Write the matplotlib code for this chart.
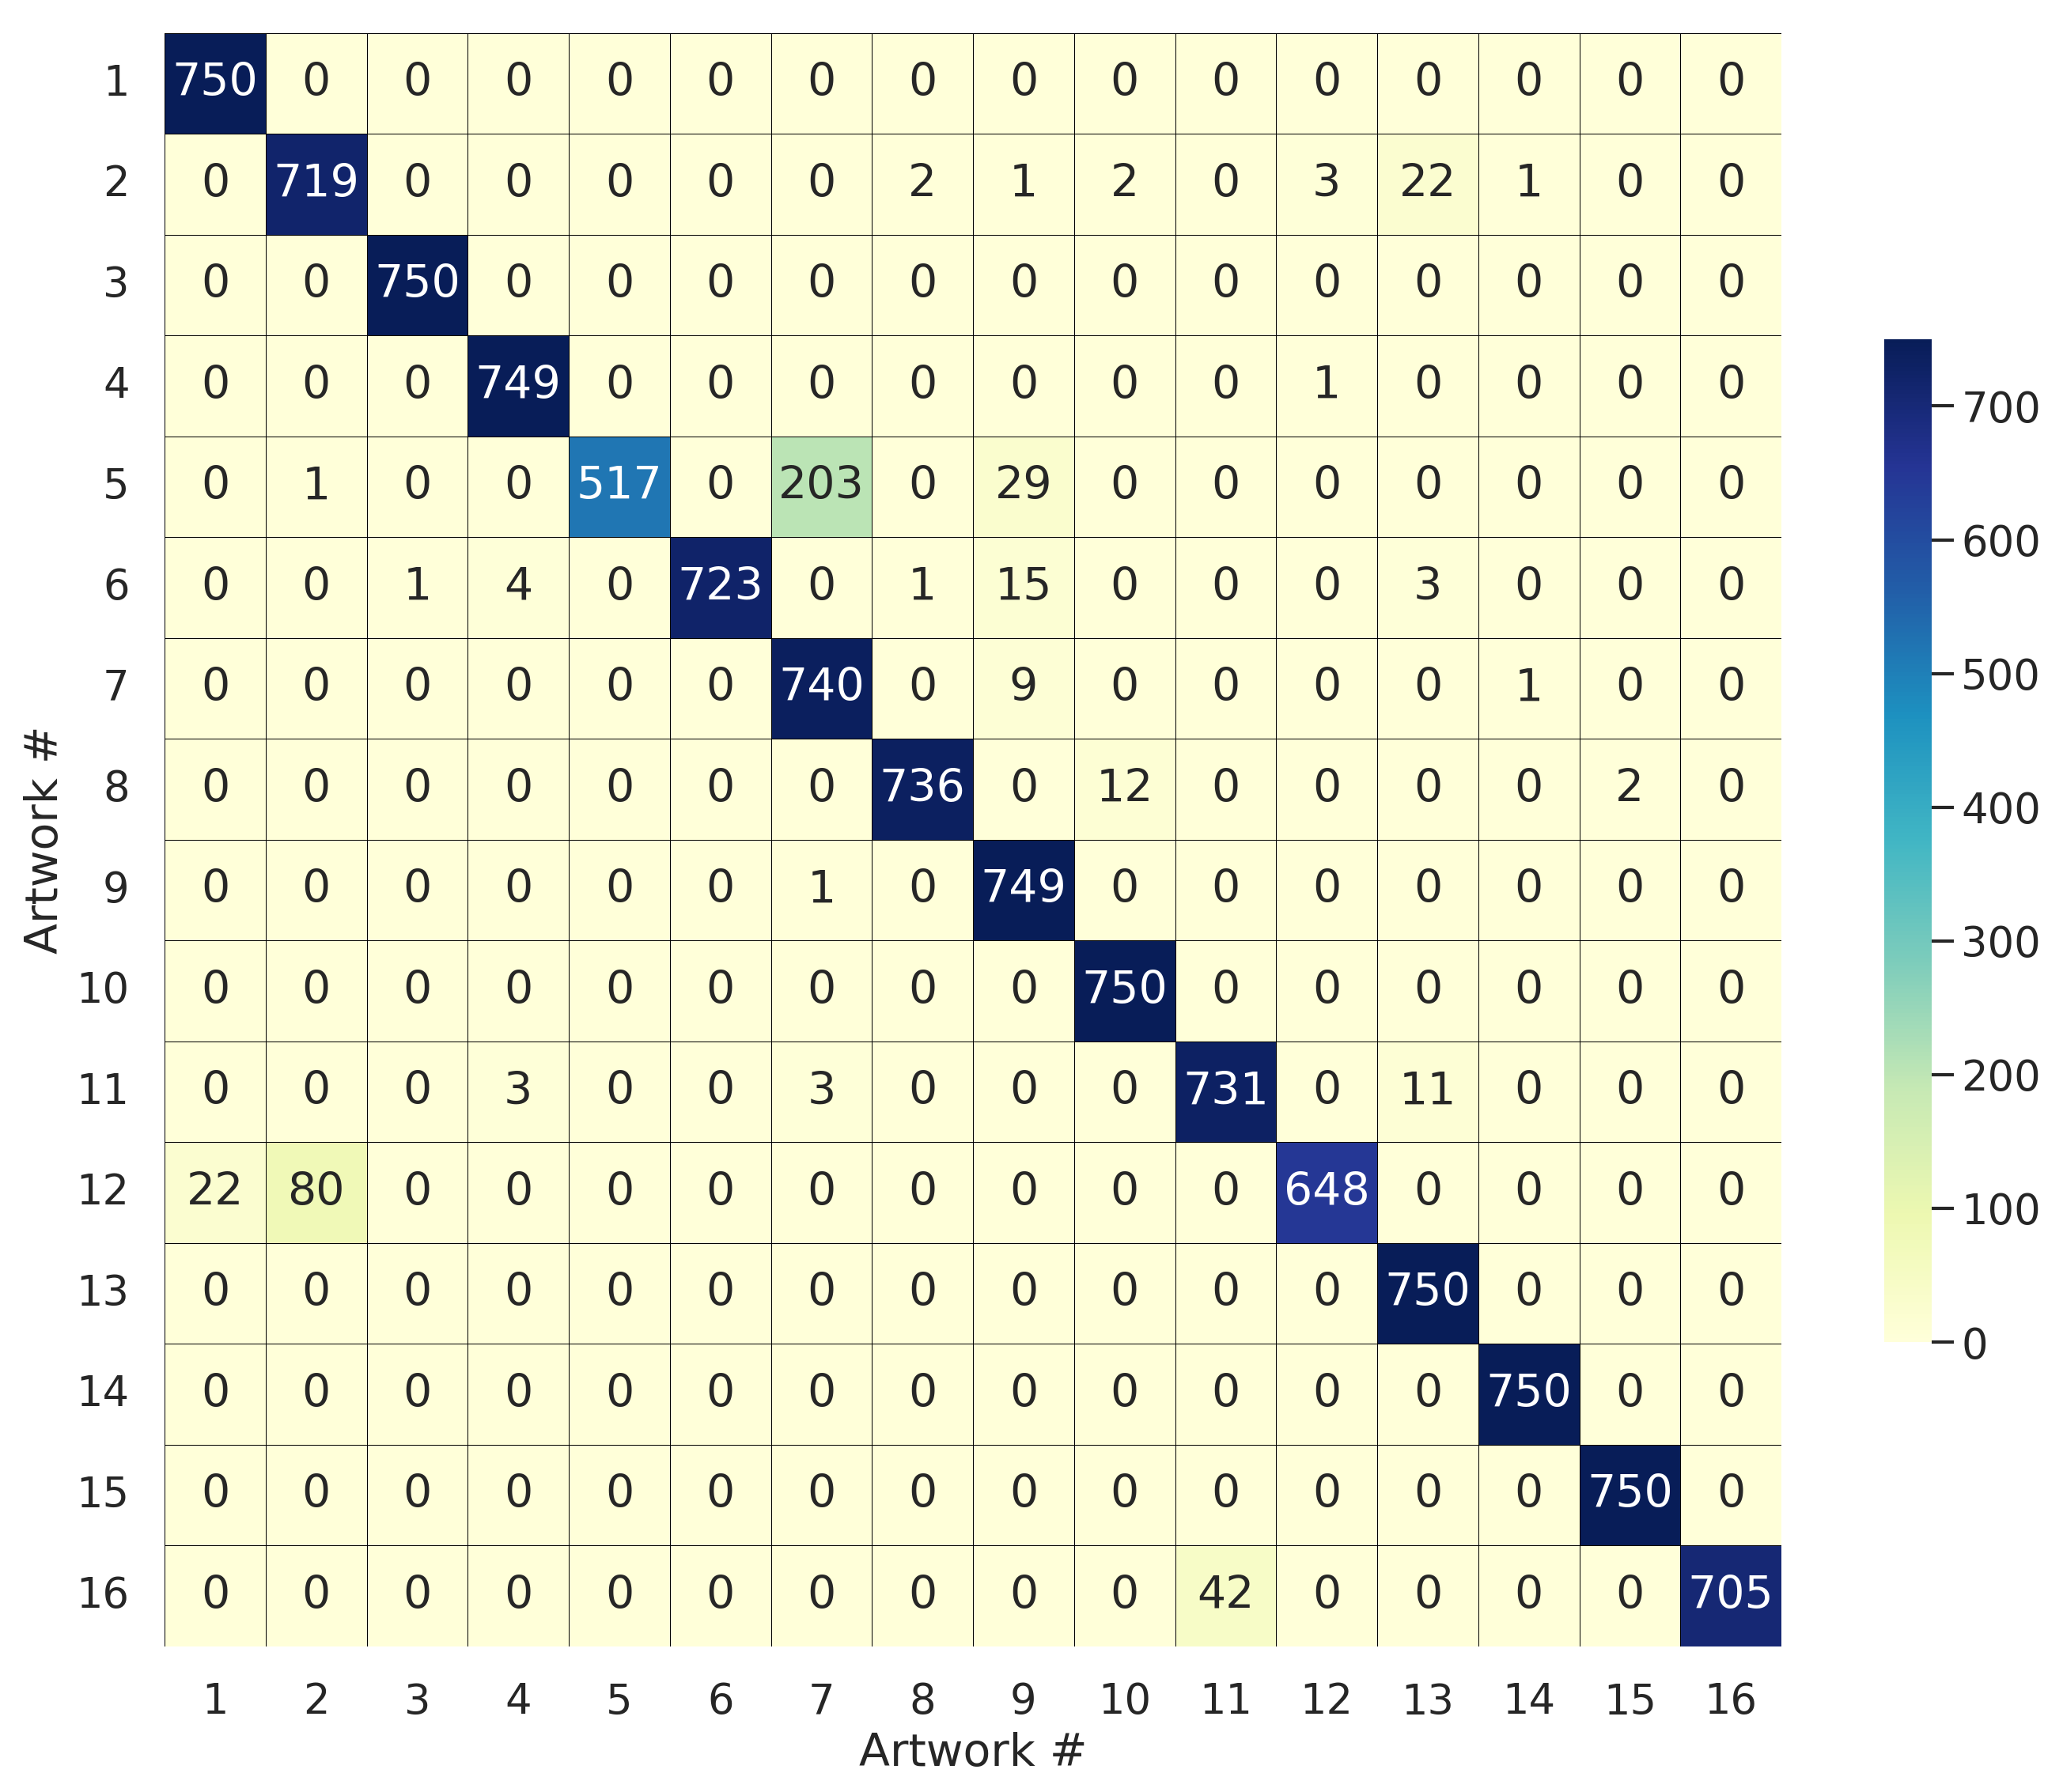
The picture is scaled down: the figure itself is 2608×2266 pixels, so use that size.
import matplotlib

matplotlib.use("Agg")
import matplotlib.pyplot as plt
import numpy as np
import seaborn as sns

labels = [str(i) for i in range(1, 17)]

# confusion counts, row = true artwork, col = predicted artwork
row01 = [750, 0, 0, 0, 0, 0, 0, 0, 0, 0, 0, 0, 0, 0, 0, 0]
row02 = [0, 719, 0, 0, 0, 0, 0, 2, 1, 2, 0, 3, 22, 1, 0, 0]
row03 = [0, 0, 750, 0, 0, 0, 0, 0, 0, 0, 0, 0, 0, 0, 0, 0]
row04 = [0, 0, 0, 749, 0, 0, 0, 0, 0, 0, 0, 1, 0, 0, 0, 0]
row05 = [0, 1, 0, 0, 517, 0, 203, 0, 29, 0, 0, 0, 0, 0, 0, 0]
row06 = [0, 0, 1, 4, 0, 723, 0, 1, 15, 0, 0, 0, 3, 0, 0, 0]
row07 = [0, 0, 0, 0, 0, 0, 740, 0, 9, 0, 0, 0, 0, 1, 0, 0]
row08 = [0, 0, 0, 0, 0, 0, 0, 736, 0, 12, 0, 0, 0, 0, 2, 0]
row09 = [0, 0, 0, 0, 0, 0, 1, 0, 749, 0, 0, 0, 0, 0, 0, 0]
row10 = [0, 0, 0, 0, 0, 0, 0, 0, 0, 750, 0, 0, 0, 0, 0, 0]
row11 = [0, 0, 0, 3, 0, 0, 3, 0, 0, 0, 731, 0, 11, 0, 0, 0]
row12 = [22, 80, 0, 0, 0, 0, 0, 0, 0, 0, 0, 648, 0, 0, 0, 0]
row13 = [0, 0, 0, 0, 0, 0, 0, 0, 0, 0, 0, 0, 750, 0, 0, 0]
row14 = [0, 0, 0, 0, 0, 0, 0, 0, 0, 0, 0, 0, 0, 750, 0, 0]
row15 = [0, 0, 0, 0, 0, 0, 0, 0, 0, 0, 0, 0, 0, 0, 750, 0]
row16 = [0, 0, 0, 0, 0, 0, 0, 0, 0, 0, 42, 0, 0, 0, 0, 705]

counts = np.array([row01, row02, row03, row04, row05, row06, row07, row08,
                   row09, row10, row11, row12, row13, row14, row15, row16])

sns.set_theme(style="white")
plt.rcParams["font.family"] = ["DejaVu Sans"]

FS_TICK = 19
FS_ANN = 20.5
FS_LAB = 20.5
fig = plt.figure(figsize=(13.04, 11.33), dpi=200)
ax = fig.add_axes([0.0798, 0.0812, 0.7837, 0.9003])
cax = fig.add_axes([0.9133, 0.2511, 0.0230, 0.5596])

sns.heatmap(counts, ax=ax, cbar_ax=cax, cmap="YlGnBu", vmin=0, vmax=750,
            annot=True, fmt="d", annot_kws={"fontsize": FS_ANN},
            linewidths=0.3, linecolor="black",
            xticklabels=labels, yticklabels=labels)

ax.set_xlabel("Artwork #", fontsize=FS_LAB, color="#262626", labelpad=4)
ax.set_ylabel("Artwork #", fontsize=FS_LAB, color="#262626", labelpad=4)
ax.tick_params(length=0, pad=16, labelsize=FS_TICK, colors="#262626")
ax.set_yticklabels(labels, rotation=0)

cax.tick_params(labelsize=FS_TICK, colors="#262626", length=10, width=1.5,
                right=True)
cax.set_yticks([0, 100, 200, 300, 400, 500, 600, 700])

fig.savefig("out.png", dpi=200, facecolor="white")
